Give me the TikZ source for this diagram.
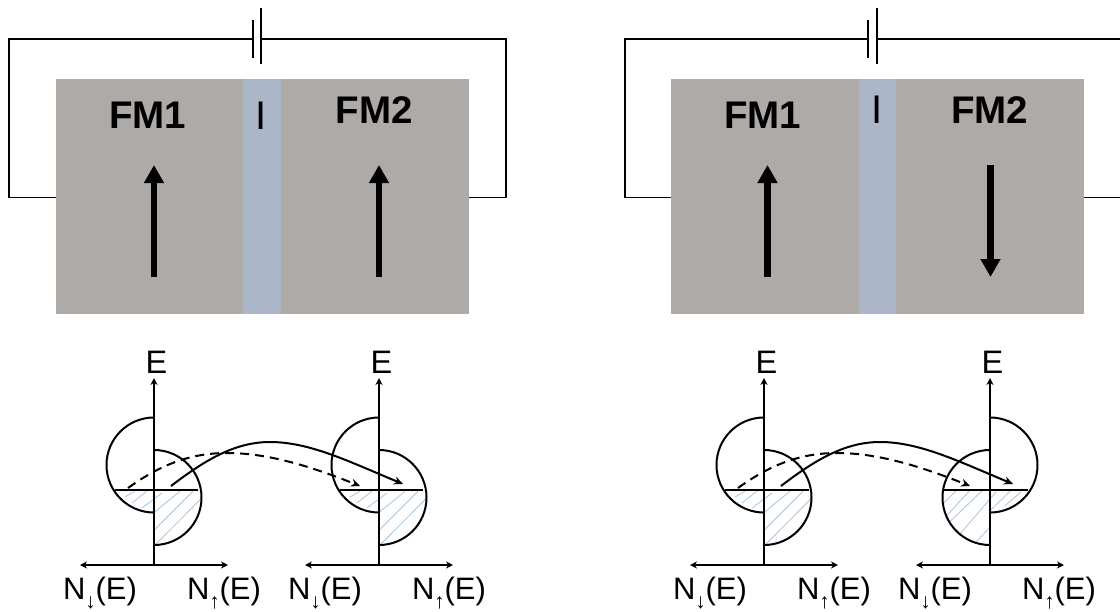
\documentclass[tikz,border=0pt]{standalone}
\usepackage{fontspec}
\setmainfont{Liberation Sans}
\usetikzlibrary{arrows.meta}
\definecolor{fmgray}{HTML}{AEAAA8}
\definecolor{barrier}{HTML}{ABB6C9}
\definecolor{hatchblue}{HTML}{A6C3DF}
\newcommand{\uparr}{\makebox[10pt][c]{\raisebox{-9pt}{\fontsize{21}{21}\selectfont ↑}}}
\newcommand{\dnarr}{\makebox[10pt][c]{\raisebox{-9pt}{\fontsize{21}{21}\selectfont ↓}}}
% \dosaxes{name}{axis x}{x of left label}{x of right label}
\newcommand{\dosaxes}[4]{%
  \coordinate (#1top) at (#2,378);
  \coordinate (#1org) at (#2,565);
  \coordinate (#1l) at (#2-74,565);
  \coordinate (#1r) at (#2+74,565);
  \draw[axisline,-{Stealth[length=7pt,width=7pt]}] (#1org) -- (#1top);
  \draw[axisline,{Stealth[length=7pt,width=7pt]}-{Stealth[length=7pt,width=7pt]}] (#1l) -- (#1r);
  \node[dostext] (#1E) at (#2+2.5,362) {E};
  \node[doslabel] (#1nd) at (#3,599.5) {N\dnarr(E)};
  \node[doslabel] (#1nu) at (#4,599.5) {N\uparr(E)};
}
\tikzset{
  axisline/.style={line width=2.1pt},
  dosline/.style={line width=2pt},
  hatchline/.style={hatchblue,line width=0.8pt},
  wire/.style={line width=1.9pt},
  plate/.style={line width=2pt},
  moment/.style={line width=6.3pt,-{Triangle[length=18pt,width=19pt]}},
  transport/.style={line width=2pt,-{Stealth[length=9pt,width=8pt]}},
  fmlabel/.style={font=\bfseries\fontsize{38.5}{38.5}\selectfont,inner sep=0pt},
  barrierlabel/.style={font=\fontsize{40}{40}\selectfont,inner sep=0pt},
  dostext/.style={font=\fontsize{32.5}{32.5}\selectfont,inner sep=0pt},
  doslabel/.style={font=\fontsize{31}{31}\selectfont,inner sep=0pt,anchor=base west},
  fmbox/.style={fill=fmgray,minimum height=235pt,inner sep=0pt,outer sep=0pt,minimum width=413pt},
  ibox/.style={fill=barrier,minimum height=235pt,inner sep=0pt,outer sep=0pt,minimum width=37.5pt}
}
\begin{document}
\begin{tikzpicture}[x=1pt,y=-1pt]
\useasboundingbox (0,0) rectangle (1120,611);
% ---------- left panel: device
\node[fmbox] (boxA) at (262.5,196.5) {};
\node[ibox] (barA) at (262.2,196.5) {};
\node[fmlabel] (fmAa) at (147.5,115) {FM1};
\node[fmlabel] (fmAb) at (374,110) {FM2};
\node[barrierlabel] (iA) at (261,116) {I};
\coordinate (mAa) at (154,277); \coordinate (mAat) at (154,165);
\coordinate (mAb) at (379,277); \coordinate (mAbt) at (379,165);
\draw[moment] (mAa) -- (mAat);
\draw[moment] (mAb) -- (mAbt);
\coordinate (batAl) at (253,39); \coordinate (batAr) at (261,39);
\draw[wire,line join=miter] (batAl) -- (9,39) -- (9,197.5) -- (boxA.west |- 0,197.5);
\draw[wire,line join=miter] (batAr) -- (506,39) -- (506,197.5) -- (boxA.east |- 0,197.5);
\draw[plate] (253,20) -- (253,57.5);
\draw[plate] (261,8) -- (261,63.5);
% ---------- left panel: DOS, FM1
\begin{scope}[shift={(154,490)}]
  \foreach \a/\b/\c/\d in {-0.7/23/26/1.3,-0.7/41/39/1.3,2/54/47.7/8,-29/7/-19/1.3,-22/13/-7.3/1.3,-12/18/8/3}
    \draw[hatchline] (\a,\b) -- (\c,\d);
  \draw[dosline] (0,-72.5) arc[start angle=90,end angle=270,radius=47.5pt];
  \draw[dosline] (0,-40) arc[start angle=90,end angle=-90,radius=47.5pt];
  \draw[dosline] (-39,0.3) -- (44,0.3);
\end{scope}
\dosaxes{a}{154}{63}{187}
% FM2
\begin{scope}[shift={(379,490)}]
  \foreach \a/\b/\c/\d in {-0.7/23/26/1.3,-0.7/41/39/1.3,2/54/47.7/8,-29/7/-19/1.3,-22/13/-7.3/1.3,-12/18/8/3}
    \draw[hatchline] (\a,\b) -- (\c,\d);
  \draw[dosline] (0,-72.5) arc[start angle=90,end angle=270,radius=47.5pt];
  \draw[dosline] (0,-40) arc[start angle=90,end angle=-90,radius=47.5pt];
  \draw[dosline] (-39,0.3) -- (44,0.3);
\end{scope}
\dosaxes{b}{379}{288}{412}
\draw[transport] (171,486) .. controls (205,460) and (235,442) .. (270,442) .. controls (310,442) and (350,462) .. (403,484);
\draw[transport,dash pattern=on 9pt off 6pt] (128,488) .. controls (160,465) and (190,453) .. (227,453) .. controls (270,453) and (315,468) .. (360,486);
% ---------- right panel: device
\node[fmbox] (boxB) at (877.5,196.5) {};
\node[ibox] (barB) at (877.4,196.5) {};
\node[fmlabel] (fmBa) at (762.7,115) {FM1};
\node[fmlabel] (fmBb) at (989.7,110) {FM2};
\node[barrierlabel] (iB) at (876.6,110) {I};
\coordinate (mBa) at (767.5,277); \coordinate (mBat) at (767.5,165);
\coordinate (mBb) at (990.5,165); \coordinate (mBbt) at (990.5,277);
\draw[moment] (mBa) -- (mBat);
\draw[moment] (mBb) -- (mBbt);
\coordinate (batBl) at (868,39.3); \coordinate (batBr) at (877,39.3);
\draw[wire,line join=miter] (batBl) -- (625,39.3) -- (625,197.5) -- (boxB.west |- 0,197.5);
\draw[wire] (batBr) -- (1120,39.3);
\draw[wire] (boxB.east |- 0,197.5) -- (1120,197.5);
\draw[plate] (868,20) -- (868,57.5);
\draw[plate] (877,8) -- (877,63.5);
% ---------- right panel: DOS, FM1
\begin{scope}[shift={(764,490)}]
  \foreach \a/\b/\c/\d in {-0.7/23/26/1.3,-0.7/41/39/1.3,2/54/47.7/8,-29/7/-19/1.3,-22/13/-7.3/1.3,-12/18/8/3}
    \draw[hatchline] (\a,\b) -- (\c,\d);
  \draw[dosline] (0,-72.5) arc[start angle=90,end angle=270,radius=47.5pt];
  \draw[dosline] (0,-40) arc[start angle=90,end angle=-90,radius=47.5pt];
  \draw[dosline] (-39,0.3) -- (45,0.3);
\end{scope}
\dosaxes{c}{764}{673}{797}
% right panel: DOS, FM2 (antiparallel)
\begin{scope}[shift={(990,490)}]
  \foreach \a/\b/\c/\d in {-46/12.7/-33/0,-43.7/26/-19.7/0,-40.3/31.7/-7/0,-31/45/6.3/1.7,-13.7/51.7/-1/38.3,0/20.7/21.3/0,14.7/16/31.3/1.7}
    \draw[hatchline] (\a,\b) -- (\c,\d);
  \draw[dosline] (0,-72.5) arc[start angle=90,end angle=-90,radius=47.5pt];
  \draw[dosline] (0,-40) arc[start angle=90,end angle=270,radius=47.5pt];
  \draw[dosline] (-47,0.3) -- (38,0.3);
\end{scope}
\dosaxes{d}{990}{898}{1022}
\draw[transport] (781,486) .. controls (815,460) and (845,442) .. (880,442) .. controls (920,442) and (960,462) .. (1013,484);
\draw[transport,dash pattern=on 9pt off 6pt] (738,488) .. controls (770,465) and (800,453) .. (837,453) .. controls (880,453) and (925,468) .. (970,486);
\end{tikzpicture}
\end{document}
